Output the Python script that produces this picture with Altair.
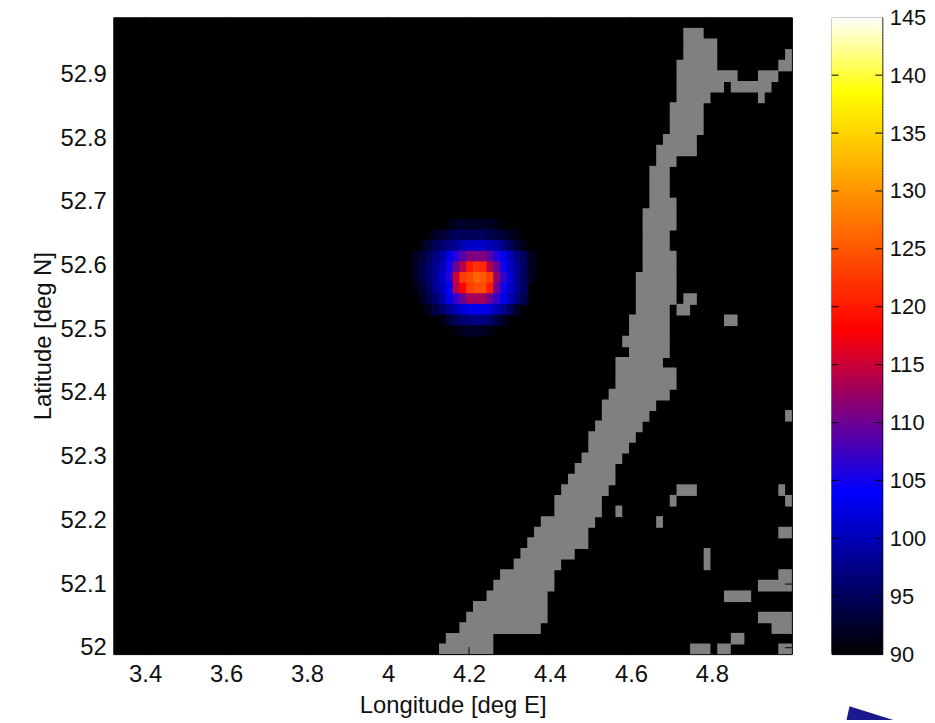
import altair as alt
import numpy as np
import pandas as pd

# ---- axes
lon_domain = [3.3215, 4.9975]
lat_domain = [51.99, 52.99]
n_cols, n_rows = 100, 60
lon_ticks = [3.4, 3.6, 3.8, 4, 4.2, 4.4, 4.6, 4.8]
lat_ticks = [52, 52.1, 52.2, 52.3, 52.4, 52.5, 52.6, 52.7, 52.8, 52.9]
level_ticks = [90, 95, 100, 105, 110, 115, 120, 125, 130, 135, 140, 145]

# ---- colormap
color_levels = [90, 104, 118, 138.5, 145]
color_values = ["#000000", "#0000ff", "#ff0000", "#ffff00", "#ffffff"]

# ---- land mask: row (from the top) -> runs of grid columns
land_runs = {
    1: [(84, 86)], 2: [(84, 88)], 3: [(84, 88), (99, 99)], 4: [(83, 88), (98, 99)],
    5: [(83, 91), (95, 97)], 6: [(83, 89), (91, 96)], 7: [(83, 87), (95, 95)],
    8: [(82, 86)], 9: [(82, 86)], 10: [(82, 86)], 11: [(81, 85)], 12: [(80, 85)],
    13: [(80, 82)], 14: [(79, 81)], 15: [(79, 81)], 16: [(79, 81)], 17: [(79, 82)],
    18: [(78, 82)], 19: [(78, 82)], 20: [(78, 81)], 21: [(78, 81)], 22: [(78, 82)],
    23: [(78, 82)], 24: [(77, 82)], 25: [(77, 82)], 26: [(77, 82), (84, 85)],
    27: [(77, 81), (83, 84)], 28: [(76, 81), (90, 91)], 29: [(76, 81)], 30: [(75, 81)],
    31: [(76, 81)], 32: [(74, 80)], 33: [(74, 82)], 34: [(74, 82)], 35: [(73, 81)],
    36: [(72, 79)], 37: [(72, 78), (99, 99)], 38: [(71, 77)], 39: [(70, 76)],
    40: [(70, 75)], 41: [(69, 74)], 42: [(68, 73)], 43: [(67, 73)],
    44: [(66, 72), (83, 85), (98, 98)], 45: [(65, 71), (82, 82), (99, 99)],
    46: [(65, 71), (74, 74)], 47: [(63, 70), (80, 80)], 48: [(62, 69), (98, 99)],
    49: [(61, 69)], 50: [(60, 67), (87, 87)], 51: [(59, 65), (87, 87)],
    52: [(57, 64), (98, 99)], 53: [(56, 64), (95, 99)], 54: [(55, 63), (90, 93)],
    55: [(53, 63)], 56: [(52, 63), (95, 99)], 57: [(51, 62), (97, 99)],
    58: [(49, 55), (91, 92)], 59: [(48, 55), (85, 87), (89, 90), (98, 99)],
}

# ---- level blob: row -> (first column, values)
blob_rows = {
    19: (49, [91, 92, 92.5, 92, 92, 92, 92, 91]),
    20: (46, [91, 92, 93, 94, 95, 95, 95, 95, 95, 94, 94, 93, 92, 91]),
    21: (45, [91, 93, 95, 96, 97, 98, 100, 101, 101, 101, 100, 99, 97, 95, 93, 91]),
    22: (44, [92, 93, 95, 97, 99, 103, 106, 109, 111, 111, 111, 109, 106, 103, 100, 97, 95, 92]),
    23: (44, [92, 94, 96, 98, 100, 105, 110, 114, 120, 122, 121, 114, 110, 105, 101, 98, 95, 92]),
    24: (44, [92, 94, 96, 98, 101, 106, 115, 123, 124, 126, 125, 123, 112, 107, 102, 98, 95, 92]),
    25: (44, [91, 93, 95, 98, 100, 104, 114, 118, 123, 124, 124, 120, 110, 105, 101, 98, 95]),
    26: (45, [92, 94, 96, 99, 103, 107, 110, 113, 113, 113, 110, 107, 103, 100, 97, 94]),
    27: (46, [92, 94, 96, 98, 100, 102, 103, 103, 103, 102, 100, 98, 95, 92]),
    28: (48, [91, 93, 95, 96, 97, 97, 97, 96, 94, 92]),
    29: (50, [91, 92, 92, 92, 92, 91]),
}

# ---- fragment of the neighbouring figure below the colour bar
corner_x = [0.294, 0.353, 1.216]
corner_y = [84.3, 85.5, 84.3]
corner_y2 = [84.3, 84.3, 84.3]

FONT = "Liberation Sans"
dlon = (lon_domain[1] - lon_domain[0]) / n_cols
dlat = (lat_domain[1] - lat_domain[0]) / n_rows
eps_lat = 0.0016   # about one pixel of overlap, so adjoining cells show no seam
eps_lon = 0.0025


def lon_at(c):
    return lon_domain[0] + c * dlon


def lat_at(r):
    return lat_domain[1] - r * dlat


land = pd.DataFrame(
    [
        {"x": lon_at(a), "x2": lon_at(b + 1), "y": lat_at(r), "y2": lat_at(r + 1) - (eps_lat if r < 59 else 0)}
        for r, runs in land_runs.items()
        for a, b in runs
    ]
)
blob = pd.DataFrame(
    [
        {
            "x": lon_at(c0 + i),
            "x2": lon_at(c0 + i + 1) + eps_lon,
            "y": lat_at(r),
            "y2": lat_at(r + 1) - eps_lat,
            "v": v,
        }
        for r, (c0, vals) in blob_rows.items()
        for i, v in enumerate(vals)
    ]
)

xs = alt.Scale(domain=lon_domain, nice=False, zero=False)
ys = alt.Scale(domain=lat_domain, nice=False, zero=False)
cs = alt.Scale(domain=color_levels, range=color_values, interpolate="rgb")

x_enc = alt.X(
    "x:Q",
    scale=xs,
    axis=alt.Axis(
        values=lon_ticks, format="~g", grid=False, domain=False, ticks=False,
        labelPadding=9, title="Longitude [deg E]", titlePadding=7,
    ),
)
y_enc = alt.Y(
    "y:Q",
    scale=ys,
    axis=alt.Axis(
        values=lat_ticks, format="~g", grid=False, domain=False, ticks=False,
        labelPadding=7, title="Latitude [deg N]", titlePadding=5,
    ),
)

land_layer = alt.Chart(land).mark_rect(color="#808080").encode(
    x=x_enc, x2="x2:Q", y=y_enc, y2="y2:Q"
)
blob_layer = alt.Chart(blob).mark_rect().encode(
    x=alt.X("x:Q", scale=xs), x2="x2:Q",
    y=alt.Y("y:Q", scale=ys), y2="y2:Q",
    color=alt.Color("v:Q", scale=cs, legend=None),
)

PLOT_W, PLOT_H = 683, 641
xt = alt.Chart(pd.DataFrame({"x": lon_ticks})).mark_rule(color="black", strokeWidth=1).encode(
    x=alt.X("x:Q", scale=xs), y=alt.value(PLOT_H), y2=alt.value(PLOT_H - 7)
)
xt2 = alt.Chart(pd.DataFrame({"x": lon_ticks})).mark_rule(color="black", strokeWidth=1).encode(
    x=alt.X("x:Q", scale=xs), y=alt.value(0), y2=alt.value(7)
)
yt = alt.Chart(pd.DataFrame({"y": lat_ticks})).mark_rule(color="black", strokeWidth=1).encode(
    y=alt.Y("y:Q", scale=ys), x=alt.value(PLOT_W - 7), x2=alt.value(PLOT_W)
)
main = alt.layer(land_layer, blob_layer, xt, xt2, yt).properties(width=PLOT_W, height=PLOT_H)

# ---- colour bar
ramp_levels = np.arange(90, 145, 0.25)
ramp = pd.DataFrame({"v": ramp_levels + 0.125, "y": ramp_levels, "y2": ramp_levels + 0.4, "a": 0.0, "b": 1.0})
ramp.loc[ramp["y2"] > 145, "y2"] = 145
vs = alt.Scale(domain=[90, 145], nice=False, zero=False)
bs = alt.Scale(domain=[0, 1], nice=False, zero=False)
ramp_layer = alt.Chart(ramp).mark_rect().encode(
    x=alt.X("a:Q", scale=bs, axis=None), x2="b:Q",
    y=alt.Y(
        "y:Q", scale=vs,
        axis=alt.Axis(
            orient="right", values=level_ticks, format="~g", grid=False, domain=False,
            ticks=False, labelPadding=7, title=None, labelFontSize=22,
        ),
    ),
    y2="y2:Q",
    color=alt.Color("v:Q", scale=cs, legend=None),
)
tick_df = pd.DataFrame({"y": level_ticks[1:-1]})
cb_t1 = alt.Chart(tick_df).mark_rule(color="black", strokeWidth=1).encode(
    y=alt.Y("y:Q", scale=vs), x=alt.value(0), x2=alt.value(7)
)
cb_t2 = alt.Chart(tick_df).mark_rule(color="black", strokeWidth=1).encode(
    y=alt.Y("y:Q", scale=vs), x=alt.value(44), x2=alt.value(51)
)
corner = alt.Chart(
    pd.DataFrame({"x": corner_x, "y": corner_y, "y2": corner_y2})
).mark_area(color="#1a1a8e", clip=False).encode(
    x=alt.X("x:Q", scale=bs), y=alt.Y("y:Q", scale=vs), y2="y2:Q"
)
cbar = alt.layer(ramp_layer, cb_t1, cb_t2, corner).properties(width=51, height=PLOT_H)

chart = (
    alt.hconcat(main, cbar, spacing=38)
    .resolve_scale(color="independent")
    .properties(padding={"left": 22, "top": -5, "right": 0, "bottom": 0}, background="white")
    .configure_view(fill="black", stroke="black", strokeWidth=1)
    .configure_axis(
        labelFont=FONT, titleFont=FONT, labelFontSize=24, titleFontSize=24,
        labelColor="#111111", titleColor="#111111", titleFontWeight="normal",
    )
)
chart.save("out.html", embed_options={"renderer": "svg", "actions": False})
